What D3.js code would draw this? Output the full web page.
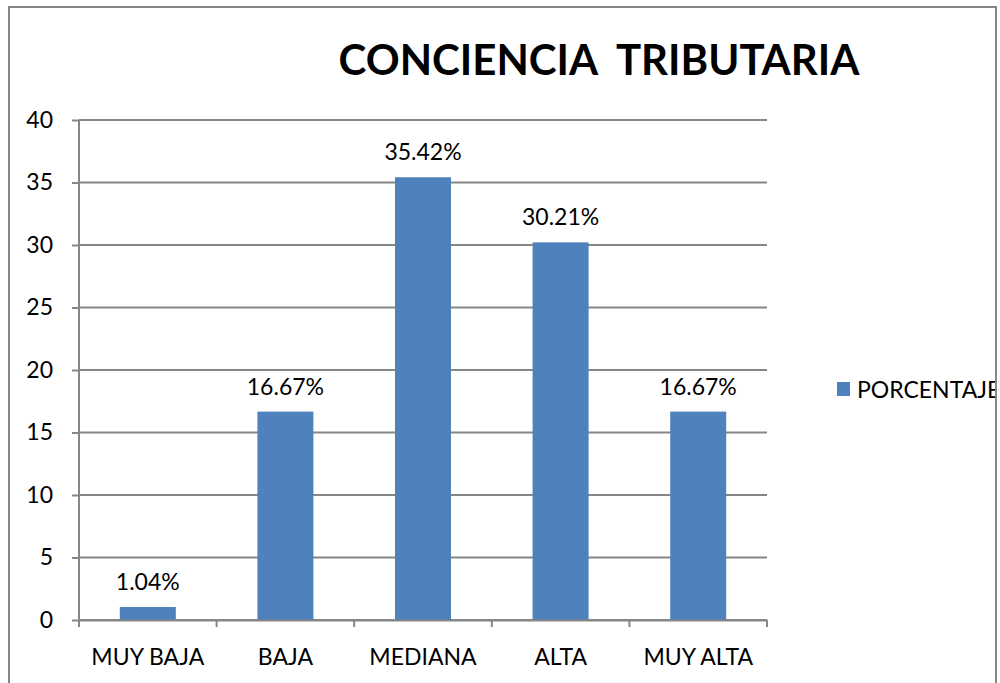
<!DOCTYPE html>
<html>
<head>
<meta charset="utf-8">
<script src="https://cdn.jsdelivr.net/npm/d3@7"></script>
<style>
  body { margin: 0; background: #fff; }
  text { font-family: Lato, "Open Sans", sans-serif; fill: #000; }
</style>
</head>
<body>
<div id="chart"></div>
<script>
// data
const categories = ["MUY BAJA", "BAJA", "MEDIANA", "ALTA", "MUY ALTA"];
const porcentaje = [1.04, 16.67, 35.42, 30.21, 16.67];
const yTicks = [0, 5, 10, 15, 20, 25, 30, 35, 40];
const seriesName = "PORCENTAJE";
const title = "CONCIENCIA  TRIBUTARIA";

const W = 1000, H = 683;
const plot = { left: 79, top: 120, right: 767, bottom: 620 };
const gridColor = "#868686";
const barColor = "#4f81bd";
const fs = 23;

const svg = d3.select("#chart").append("svg")
    .attr("width", W)
    .attr("height", H);

// clip everything to the chart frame
svg.append("clipPath").attr("id", "frame")
    .append("rect")
    .attr("x", 9).attr("y", 7)
    .attr("width", 987).attr("height", 700);

// outer chart border
svg.append("rect")
    .attr("x", 9).attr("y", 7)
    .attr("width", 987).attr("height", 700)
    .attr("fill", "#fff");

const x = d3.scaleBand()
    .domain(categories)
    .range([plot.left, plot.right])
    .padding(0);

const y = d3.scaleLinear()
    .domain([0, 40])
    .range([plot.bottom, plot.top]);

// gridlines + y ticks
const yAxis = svg.append("g")
    .attr("transform", `translate(${plot.left},0)`)
    .call(d3.axisLeft(y).tickValues(yTicks).tickSize(7).tickPadding(19));
yAxis.select(".domain").remove();
yAxis.selectAll("line").attr("stroke", gridColor).attr("stroke-width", 2);
yAxis.selectAll("text").attr("font-size", fs).attr("fill", "#000");

svg.append("g")
    .selectAll("line")
    .data(yTicks)
    .join("line")
    .attr("x1", plot.left).attr("x2", plot.right)
    .attr("y1", d => y(d)).attr("y2", d => y(d))
    .attr("stroke", gridColor)
    .attr("stroke-width", 2);

// vertical axis line
svg.append("line")
    .attr("x1", plot.left).attr("x2", plot.left)
    .attr("y1", plot.top).attr("y2", plot.bottom)
    .attr("stroke", gridColor).attr("stroke-width", 2);

// bars
const barW = x.bandwidth() * 0.407;
svg.append("g")
    .selectAll("rect")
    .data(porcentaje)
    .join("rect")
    .attr("x", (d, i) => x(categories[i]) + (x.bandwidth() - barW) / 2)
    .attr("y", d => y(d))
    .attr("width", barW)
    .attr("height", d => y(0) - y(d))
    .attr("fill", barColor);

// data labels
svg.append("g")
    .selectAll("text")
    .data(porcentaje)
    .join("text")
    .attr("x", (d, i) => x(categories[i]) + x.bandwidth() / 2)
    .attr("y", d => y(d) - 17)
    .attr("text-anchor", "middle")
    .attr("font-size", fs)
    .text(d => d.toFixed(2) + "%");

// x axis with tick marks between categories
const xAxis = svg.append("g")
    .attr("transform", `translate(0,${plot.bottom})`)
    .call(d3.axisBottom(x).tickSize(0).tickPadding(29));
xAxis.select(".domain").attr("stroke", gridColor).attr("stroke-width", 2);
xAxis.selectAll("text").attr("font-size", fs).attr("fill", "#000");

const bounds = categories.map(c => x(c)).concat([plot.right]);
svg.append("g")
    .selectAll("line")
    .data(bounds)
    .join("line")
    .attr("x1", d => d).attr("x2", d => d)
    .attr("y1", plot.bottom).attr("y2", plot.bottom + 7)
    .attr("stroke", gridColor).attr("stroke-width", 2);

// title
svg.append("text")
    .attr("x", 599)
    .attr("y", 75)
    .attr("text-anchor", "middle")
    .attr("font-size", 42)
    .attr("font-weight", "bold")
    .style("white-space", "pre")
    .text(title);

// legend
const legend = svg.append("g").attr("clip-path", "url(#frame)")
    .append("g").attr("transform", "translate(837,382)");
legend.append("rect")
    .attr("width", 13).attr("height", 14)
    .attr("fill", barColor);
legend.append("text")
    .attr("x", 20).attr("y", 16)
    .attr("font-size", fs)
    .text(seriesName);

// frame stroke on top
svg.append("rect")
    .attr("x", 9).attr("y", 7)
    .attr("width", 987).attr("height", 700)
    .attr("fill", "none")
    .attr("stroke", gridColor)
    .attr("stroke-width", 2);
</script>
</body>
</html>
